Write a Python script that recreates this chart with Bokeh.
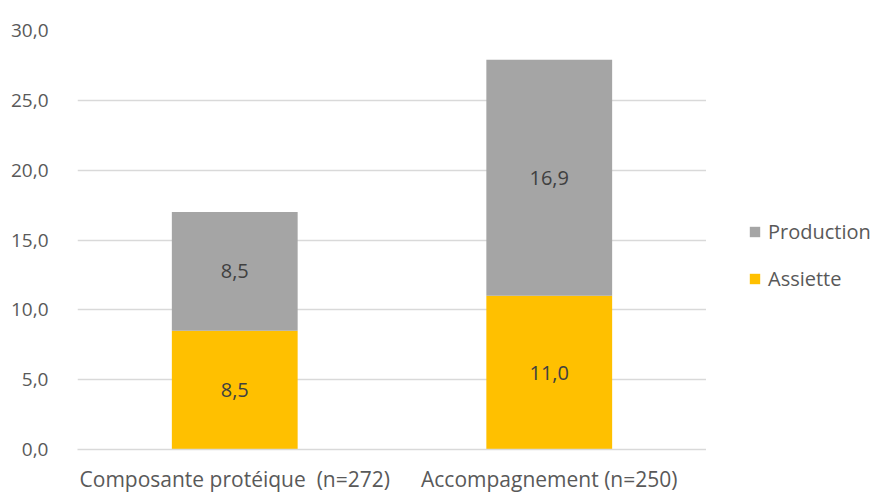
from bokeh.plotting import figure
from bokeh.layouts import row
from bokeh.models import ColumnDataSource, Legend, LegendItem, LabelSet, FixedTicker, CustomJSTickFormatter
from bokeh.core.properties import value
from bokeh.embed import file_html
from bokeh.resources import INLINE

categories = ["Composante protéique\u00a0 (n=272)", "Accompagnement (n=250)"]
assiette = [8.5, 11.0]
production = [8.5, 16.9]
series = ["Assiette", "Production"]
colors = ["#FFC000", "#A5A5A5"]
y_ticks = [0, 5, 10, 15, 20, 25, 30]

FONT = "Open Sans"
TXT = "#595959"

src = ColumnDataSource(dict(cat=categories, Assiette=assiette, Production=production))

p = figure(x_range=categories, y_range=(0, 30), width=706, height=495,
           output_backend="svg", toolbar_location=None,
           min_border_left=77, min_border_top=30, min_border_bottom=44, min_border_right=0)
p.outline_line_color = None

r = p.vbar_stack(series, x="cat", width=0.4, color=colors, source=src, line_color=None)

# segment labels
lab_cat, lab_y, lab_txt = [], [], []
for c, a, pr in zip(categories, assiette, production):
    lab_cat += [c, c]
    lab_y += [a / 2, a + pr / 2]
    lab_txt += [f"{a:.1f}".replace(".", ","), f"{pr:.1f}".replace(".", ",")]
lsrc = ColumnDataSource(dict(cat=lab_cat, y=lab_y, t=lab_txt))
p.add_layout(LabelSet(x="cat", y="y", text="t", source=lsrc, text_align="center",
                      text_baseline="middle", text_font=value(FONT), text_font_size=value("20px"),
                      text_color=value("#404040")))

# axes
p.yaxis.ticker = FixedTicker(ticks=y_ticks)
p.yaxis.formatter = CustomJSTickFormatter(code="return tick.toFixed(1).replace('.', ',');")
p.yaxis.axis_line_color = None
p.yaxis.major_tick_line_color = None
p.yaxis.minor_tick_line_color = None
p.yaxis.major_label_standoff = 23
p.yaxis.major_label_text_font = FONT
p.yaxis.major_label_text_font_size = "19px"
p.yaxis.major_label_text_color = TXT

p.xaxis.axis_line_color = "#D9D9D9"
p.xaxis.axis_line_width = 1.5
p.xaxis.major_tick_line_color = None
p.xaxis.minor_tick_line_color = None
p.xaxis.major_label_standoff = 9
p.xaxis.major_label_text_font = FONT
p.xaxis.major_label_text_font_size = "21px"
p.xaxis.major_label_text_color = TXT

p.xgrid.grid_line_color = None
p.ygrid.grid_line_color = "#D9D9D9"
p.ygrid.grid_line_width = 1.5

# legend panel (separate figure to the right; its zero-width bars lie outside its view)
q = figure(x_range=categories, y_range=(100, 101), width=170, height=495,
           output_backend="svg", toolbar_location=None,
           min_border_left=0, min_border_right=0, min_border_top=0, min_border_bottom=0)
q.axis.visible = False
q.grid.visible = False
q.outline_line_color = None
rq = q.vbar_stack(series, x="cat", width=0, color=colors, source=src, line_color=None)

legend = Legend(items=[LegendItem(label="Production", renderers=[rq[1]]),
                       LegendItem(label="Assiette", renderers=[rq[0]])],
                location=(42, 157), orientation="vertical")
legend.border_line_color = None
legend.background_fill_alpha = 0
legend.glyph_width = 13
legend.glyph_height = 13
legend.label_text_font = FONT
legend.label_text_font_size = "20px"
legend.label_text_color = TXT
legend.label_standoff = 7
legend.spacing = 20
legend.margin = 0
legend.padding = 0
legend.label_height = 25
q.add_layout(legend, "center")

open("out.html", "w").write(file_html(row(p, q), INLINE))
